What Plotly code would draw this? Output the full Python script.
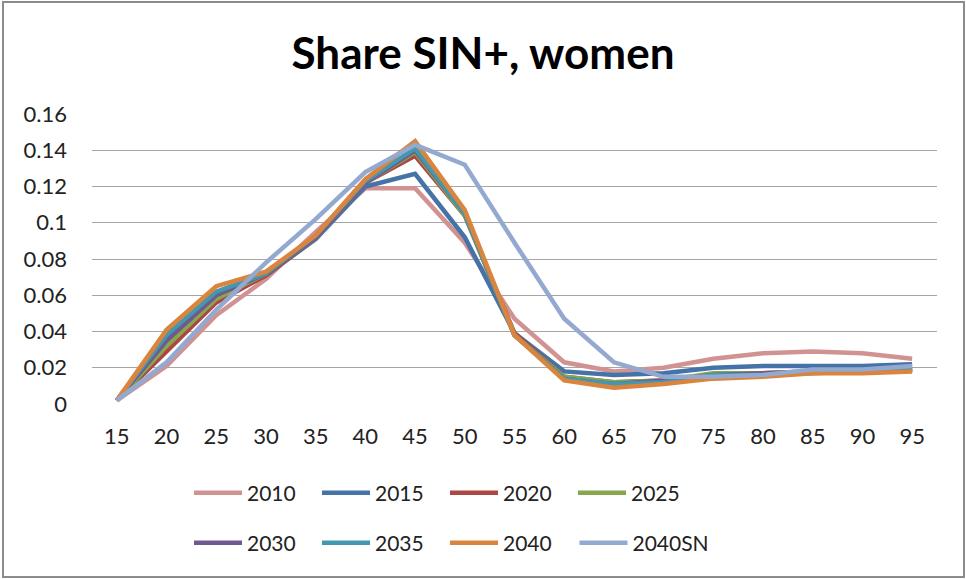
import plotly.graph_objects as go

ages = ["15", "20", "25", "30", "35", "40", "45", "50", "55", "60", "65", "70", "75", "80", "85", "90", "95"]

s2010 = [0.002, 0.021, 0.049, 0.069, 0.095, 0.119, 0.119, 0.089, 0.047, 0.023, 0.018, 0.020, 0.025, 0.028, 0.029, 0.028, 0.025]
s2015 = [0.002, 0.036, 0.059, 0.071, 0.091, 0.120, 0.127, 0.092, 0.039, 0.018, 0.016, 0.017, 0.020, 0.021, 0.021, 0.021, 0.022]
s2020 = [0.002, 0.029, 0.056, 0.071, 0.092, 0.122, 0.137, 0.104, 0.039, 0.015, 0.012, 0.013, 0.016, 0.017, 0.018, 0.018, 0.019]
s2025 = [0.002, 0.032, 0.058, 0.072, 0.092, 0.122, 0.139, 0.104, 0.038, 0.015, 0.012, 0.013, 0.017, 0.017, 0.018, 0.018, 0.019]
s2030 = [0.002, 0.035, 0.060, 0.072, 0.092, 0.122, 0.140, 0.105, 0.038, 0.014, 0.011, 0.013, 0.016, 0.017, 0.018, 0.018, 0.019]
s2035 = [0.002, 0.038, 0.062, 0.072, 0.093, 0.123, 0.141, 0.105, 0.038, 0.014, 0.011, 0.012, 0.016, 0.016, 0.017, 0.018, 0.019]
s2040 = [0.002, 0.041, 0.065, 0.073, 0.093, 0.124, 0.145, 0.107, 0.038, 0.013, 0.009, 0.011, 0.014, 0.015, 0.017, 0.017, 0.018]
s2040SN = [0.002, 0.023, 0.052, 0.078, 0.102, 0.128, 0.143, 0.132, 0.089, 0.047, 0.023, 0.015, 0.015, 0.016, 0.019, 0.019, 0.021]

series_names = ["2010", "2015", "2020", "2025", "2030", "2035", "2040", "2040SN"]
series_values = [s2010, s2015, s2020, s2025, s2030, s2035, s2040, s2040SN]
colors = ["#D19392", "#4572A7", "#AA4643", "#89A54E", "#71588F", "#4198AF", "#DB843D", "#93A9CF"]
legend_ids = ["legend", "legend", "legend", "legend", "legend2", "legend2", "legend2", "legend3"]

y_ticks = [0, 0.02, 0.04, 0.06, 0.08, 0.1, 0.12, 0.14, 0.16]
y_tick_text = ["0", "0.02", "0.04", "0.06", "0.08", "0.1", "0.12", "0.14", "0.16"]

FONT = "Lato"

fig = go.Figure()
for name, vals, col, lg in zip(series_names, series_values, colors, legend_ids):
    fig.add_trace(go.Scatter(
        x=ages, y=vals, name=name, mode="lines",
        line=dict(color=col, width=4.5),
        legend=lg,
    ))

W, H = 966, 579
L, R, T, B = 92, 29, 114, 175
pw, ph = W - L - R, H - T - B

def px_x(px):
    return (px - L) / pw

def px_y(py):
    return (H - B - py) / ph

leg_common = dict(orientation="h", xanchor="left", yanchor="middle", itemwidth=48,
                  font=dict(size=21), bgcolor="rgba(0,0,0,0)")

fig.update_layout(
    width=W, height=H,
    margin=dict(l=L, r=R, t=T, b=B),
    paper_bgcolor="white", plot_bgcolor="white",
    font=dict(family=FONT, size=21, color="#222222"),
    title=dict(text="<b>Share SIN+, women</b>", x=0.5, xref="container", xanchor="center",
               y=1 - 54 / H, yref="container", yanchor="middle",
               font=dict(family=FONT, size=44, color="black")),
    xaxis=dict(type="category", showgrid=False, showline=False, ticks="",
               tickfont=dict(size=22), range=[-0.5, 16.5], ticklabelstandoff=17),
    yaxis=dict(range=[0, 0.16], tickvals=y_ticks, ticktext=y_tick_text,
               showgrid=True, gridcolor="#A6A6A6", gridwidth=1, zeroline=False,
               showline=False, ticks="", ticklabelstandoff=24, tickfont=dict(size=22)),
    legend=dict(x=px_x(189), y=px_y(493), entrywidth=65, entrywidthmode="pixels", **leg_common),
    legend2=dict(x=px_x(189), y=px_y(543), entrywidth=65, entrywidthmode="pixels", **leg_common),
    legend3=dict(x=px_x(189 + 3 * 128.5), y=px_y(543), **leg_common),
    shapes=[dict(type="rect", xref="paper", yref="paper",
                 x0=px_x(3), x1=px_x(964), y0=px_y(577), y1=px_y(2),
                 line=dict(color="#8C8C8C", width=2), fillcolor="rgba(0,0,0,0)", layer="below")],
)

fig.write_html("out.html", post_script="document.body.style.margin='0';",
               config={"displayModeBar": False})
